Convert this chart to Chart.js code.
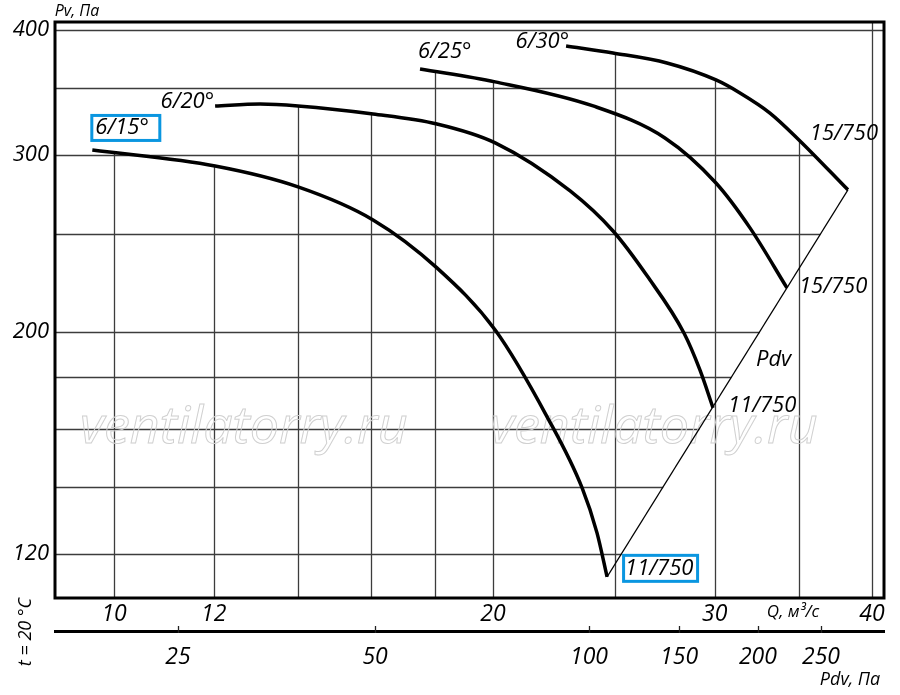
<!DOCTYPE html>
<html>
<head>
<meta charset="utf-8">
<script src="https://cdn.jsdelivr.net/npm/chart.js@4.4.1/dist/chart.umd.min.js"></script>
<style>
  html, body { margin: 0; padding: 0; background: #fff; }
</style>
</head>
<body>
<canvas id="fanChart" width="900" height="695"></canvas>
<script>
/* Fan curves, Q (m3/s) vs Pv (Pa), log-log */

const curve15Q = [9.61, 12.03, 14.00, 16.06, 18.05, 20.08, 22.08, 23.54, 24.19, 24.64];
const curve15P = [303.6, 292.6, 278.9, 258.5, 231.5, 200.7, 164.4, 139.6, 125.9, 113.8];

const curve20Q = [12.03, 13.06, 14.00, 16.06, 18.05, 20.08, 23.03, 24.91, 26.51, 28.36, 29.20, 29.91];
const curve20P = [335.9, 337.4, 335.9, 329.8, 322.3, 308.6, 276.3, 252.0, 227.3, 199.3, 183.1, 167.8];

const curve25Q = [17.50, 20.08, 24.02, 27.39, 30.07, 32.00, 34.24];
const curve25P = [365.7, 355.0, 335.9, 312.1, 281.4, 253.8, 221.1];

const curve30Q = [22.86, 24.91, 27.49, 30.07, 31.42, 33.19, 35.00, 38.28];
const curve30P = [385.6, 379.4, 370.8, 356.6, 346.1, 330.5, 310.7, 277.0];

// thin line through the ends of the curves
const pdvLineQ = [24.64, 38.28];
const pdvLineP = [113.8, 277.0];

const qTicks = [10, 12, 20, 30, 40];
const qGrid = [10, 12, 14, 16, 18, 20, 25, 30, 35, 40];
const pvTicks = [120, 200, 300, 400];
const pvGrid = [120, 140, 160, 180, 200, 250, 300, 350, 400];

// lower scale: dynamic pressure labels and the Q they sit at
const pdvTicks = [25, 50, 100, 150, 200, 250];
const pdvTickQ = [11.24, 16.12, 23.84, 28.11, 32.47, 36.44];

const FONT = '"Open Sans", "Noto Sans", sans-serif';
const BLUE = '#0a96e0';
const GRID = '#3c3c3c';

function series(qs, ps) {
    return qs.map((q, i) => ({ x: q, y: ps[i] }));
}

// interpolate P at Q along a curve, in log-log space
function pAtQ(qs, ps, q) {
    if (q < qs[0] || q > qs[qs.length - 1]) return null;
    for (let i = 0; i < qs.length - 1; i++) {
        if (q >= qs[i] && q <= qs[i + 1]) {
            const t = Math.log(q / qs[i]) / Math.log(qs[i + 1] / qs[i]);
            return Math.exp(Math.log(ps[i]) + t * Math.log(ps[i + 1] / ps[i]));
        }
    }
    return null;
}

// interpolate Q at P along a polyline, in log-log space
function qAtP(qs, ps, p) {
    for (let i = 0; i < ps.length - 1; i++) {
        const lo = Math.min(ps[i], ps[i + 1]), hi = Math.max(ps[i], ps[i + 1]);
        if (p >= lo && p <= hi && lo !== hi) {
            const t = Math.log(p / ps[i]) / Math.log(ps[i + 1] / ps[i]);
            return Math.exp(Math.log(qs[i]) + t * Math.log(qs[i + 1] / qs[i]));
        }
    }
    return null;
}

const curveQs = [curve15Q, curve20Q, curve25Q, curve30Q];
const curvePs = [curve15P, curve20P, curve25P, curve30P];

// grid is cut off by the envelope of the curves
const gridPlugin = {
    id: 'clippedGrid',
    beforeDatasetsDraw(chart) {
        const { ctx, chartArea: a, scales: { x, y } } = chart;
        ctx.save();
        ctx.strokeStyle = GRID;
        ctx.lineWidth = 1.3;

        qGrid.forEach(q => {
            const px = Math.round(x.getPixelForValue(q)) + 0.5;
            let top = a.top;
            if (q !== qGrid[qGrid.length - 1]) {
                let best = null;
                curveQs.forEach((qs, i) => {
                    const p = pAtQ(qs, curvePs[i], q);
                    if (p !== null && (best === null || p > best)) best = p;
                });
                if (best !== null) top = y.getPixelForValue(best);
            }
            ctx.beginPath();
            ctx.moveTo(px, top);
            ctx.lineTo(px, a.bottom);
            ctx.stroke();
        });

        const edgeQ = curve30Q.concat(pdvLineQ.slice().reverse());
        const edgeP = curve30P.concat(pdvLineP.slice().reverse());
        pvGrid.forEach(p => {
            const py = Math.round(y.getPixelForValue(p)) + 0.5;
            let right = a.right;
            if (p !== pvGrid[pvGrid.length - 1]) {
                const q = qAtP(edgeQ, edgeP, p);
                if (q !== null) right = x.getPixelForValue(q);
            }
            ctx.beginPath();
            ctx.moveTo(a.left, py);
            ctx.lineTo(right, py);
            ctx.stroke();
        });

        // watermark
        ctx.font = `italic 50px ${FONT}`;
        const w = ctx.measureText('ventilatorry.ru').width;
        ctx.font = `italic ${Math.round(50 * 330 / w)}px ${FONT}`;
        ctx.textAlign = 'left';
        ctx.textBaseline = 'middle';
        ctx.strokeStyle = '#d0d0d0';
        ctx.lineWidth = 1;
        ctx.strokeText('ventilatorry.ru', a.left + 25, 428);
        ctx.strokeText('ventilatorry.ru', a.left + 435, 428);
        ctx.restore();
    }
};

function label(ctx, str, px, py, size, align) {
    ctx.font = `italic ${size}px ${FONT}`;
    ctx.textAlign = align;
    ctx.textBaseline = 'middle';
    ctx.fillStyle = '#000';
    ctx.fillText(str, px, py);
}

const labelPlugin = {
    id: 'labels',
    afterDraw(chart) {
        const { ctx, chartArea: a, scales: { x, y, pdv } } = chart;
        const pt = (q, p) => ({ x: x.getPixelForValue(q), y: y.getPixelForValue(p) });
        ctx.save();

        // frame
        ctx.strokeStyle = '#000';
        ctx.lineWidth = 3;
        ctx.strokeRect(a.left, a.top, a.right - a.left, a.bottom - a.top);

        // lower scale tick marks
        ctx.lineWidth = 1.3;
        ctx.strokeStyle = '#222';
        pdvTickQ.forEach(q => {
            const px = Math.round(pdv.getPixelForValue(q)) + 0.5;
            ctx.beginPath();
            ctx.moveTo(px, pdv.top - 5);
            ctx.lineTo(px, pdv.top + 2);
            ctx.stroke();
        });

        const first = (qs, ps) => pt(qs[0], ps[0]);
        const last = (qs, ps) => pt(qs[qs.length - 1], ps[ps.length - 1]);
        const s15 = first(curve15Q, curve15P), e15 = last(curve15Q, curve15P);
        const s20 = first(curve20Q, curve20P), e20 = last(curve20Q, curve20P);
        const s25 = first(curve25Q, curve25P), e25 = last(curve25Q, curve25P);
        const s30 = first(curve30Q, curve30P), e30 = last(curve30Q, curve30P);

        ctx.strokeStyle = BLUE;
        ctx.lineWidth = 3;
        ctx.strokeRect(s15.x - 0.5, s15.y - 34.5, 68, 25);
        label(ctx, '6/15°', s15.x + 3, s15.y - 22, 22, 'left');
        label(ctx, '6/20°', s20.x - 1, s20.y - 4, 22, 'right');
        label(ctx, '6/25°', s25.x - 2, s25.y - 17, 22, 'left');
        label(ctx, '6/30°', s30.x + 3, s30.y - 4, 22, 'right');

        label(ctx, '15/750', e30.x - 4, e30.y - 56, 22, 'center');
        label(ctx, '15/750', e25.x + 12, e25.y - 1, 22, 'left');
        label(ctx, '11/750', e20.x + 15, e20.y - 2, 22, 'left');
        ctx.strokeStyle = BLUE;
        ctx.strokeRect(e15.x + 16.5, e15.y - 21.5, 74, 26);
        label(ctx, '11/750', e15.x + 18, e15.y - 8, 22, 'left');

        const pA = pt(pdvLineQ[0], pdvLineP[0]);
        const pB = pt(pdvLineQ[1], pdvLineP[1]);
        label(ctx, 'Pdv', pA.x + 0.56 * (pB.x - pA.x) + 14, pA.y + 0.56 * (pB.y - pA.y), 22, 'left');

        // axis captions
        label(ctx, 'Pv, Па', 77, 11, 16, 'center');
        label(ctx, 'Q, м³/с', 793, 612, 17, 'center');
        label(ctx, 'Pdv, Па', 850, 680, 18, 'center');
        ctx.translate(26, 632);
        ctx.rotate(-Math.PI / 2);
        label(ctx, 't = 20 °C', 0, 0, 18, 'center');
        ctx.restore();
    }
};

const datasets = curveQs.map((qs, i) => ({
    data: series(qs, curvePs[i]),
    borderColor: '#000',
    borderWidth: 3.5,
    pointRadius: 0,
    cubicInterpolationMode: 'monotone',
    fill: false
}));
datasets.push({
    data: series(pdvLineQ, pdvLineP),
    borderColor: '#000',
    borderWidth: 1.2,
    pointRadius: 0,
    tension: 0,
    fill: false
});

const Q_MIN = 8.976, Q_MAX = 40.89;

new Chart(document.getElementById('fanChart'), {
    type: 'line',
    data: { datasets },
    options: {
        responsive: false,
        animation: false,
        layout: { padding: { top: 22, right: 16, left: 0, bottom: 0 } },
        plugins: { legend: { display: false }, tooltip: { enabled: false } },
        scales: {
            x: {
                type: 'logarithmic',
                position: 'bottom',
                min: Q_MIN,
                max: Q_MAX,
                grid: { display: false, drawTicks: false },
                border: { display: false },
                afterBuildTicks: s => { s.ticks = qTicks.map(v => ({ value: v })); },
                afterFit: s => { s.height = 33; },
                ticks: {
                    autoSkip: false,
                    maxRotation: 0,
                    padding: 3,
                    color: '#000',
                    font: { family: FONT, size: 23, style: 'italic' },
                    callback: v => String(v)
                }
            },
            pdv: {
                type: 'logarithmic',
                position: 'bottom',
                min: Q_MIN,
                max: Q_MAX,
                grid: { display: false, drawTicks: false },
                border: { display: true, width: 3, color: '#000' },
                afterBuildTicks: s => { s.ticks = pdvTickQ.map(v => ({ value: v })); },
                afterFit: s => { s.height = 64; },
                ticks: {
                    autoSkip: false,
                    maxRotation: 0,
                    padding: 13,
                    color: '#000',
                    font: { family: FONT, size: 23, style: 'italic' },
                    callback: (v, i) => String(pdvTicks[i])
                }
            },
            y: {
                type: 'logarithmic',
                position: 'left',
                min: 108.4,
                max: 407.4,
                grid: { display: false, drawTicks: false },
                border: { display: false },
                afterBuildTicks: s => { s.ticks = pvTicks.map(v => ({ value: v })); },
                afterFit: s => { s.width = 55; },
                ticks: {
                    autoSkip: false,
                    padding: 6,
                    color: '#000',
                    font: { family: FONT, size: 22, style: 'italic' },
                    callback: v => String(v)
                }
            }
        }
    },
    plugins: [gridPlugin, labelPlugin]
});
</script>
</body>
</html>
